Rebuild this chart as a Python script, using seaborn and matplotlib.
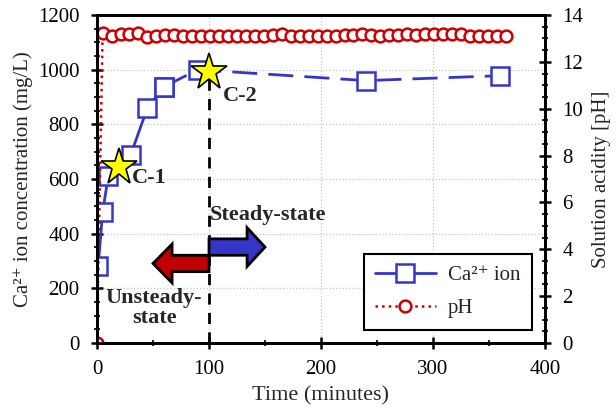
import pandas as pd
import seaborn as sns
import matplotlib.pyplot as plt
from matplotlib.lines import Line2D
from matplotlib.patches import FancyArrow
from matplotlib.ticker import MultipleLocator

# Ca2+ concentration (mg/L) vs time (minutes)
ca_time = [1, 5, 10, 30, 45, 60, 90, 240, 360]
ca_conc = [280, 478, 610, 688, 860, 938, 1000, 960, 978]

# pH vs time (minutes)
ph_time = [0, 5, 13, 21, 29, 37, 45, 53, 61, 69, 77, 85, 93, 101, 109, 117, 125,
           133, 141, 149, 157, 165, 173, 181, 189, 197, 205, 213, 221, 229, 237,
           245, 253, 261, 269, 277, 285, 293, 301, 309, 317, 325, 333, 341, 349,
           357, 365]
ph_vals = [0.0, 13.25, 13.12, 13.17, 13.2, 13.24, 13.07, 13.12, 13.15, 13.15,
           13.12, 13.12, 13.12, 13.12, 13.12, 13.12, 13.12, 13.1, 13.12, 13.12,
           13.14, 13.2, 13.12, 13.1, 13.1, 13.1, 13.12, 13.12, 13.14, 13.15,
           13.2, 13.14, 13.12, 13.14, 13.15, 13.17, 13.15, 13.2, 13.2, 13.17,
           13.2, 13.17, 13.12, 13.12, 13.12, 13.12, 13.12]

# marked points
star_time = [20, 100]
star_conc = [645, 993]
star_names = ['C-1', 'C-2']

BLUE = '#3535c8'
RED = '#cc0000'

sns.set_theme(style='ticks')
plt.rcParams['font.family'] = ['Liberation Serif', 'DejaVu Serif']

fig = plt.figure(figsize=(6.16, 4.08), dpi=100)
ax = fig.add_axes([0.1575, 0.1593, 0.7272, 0.8039])
ax2 = ax.twinx()

ca = pd.DataFrame({'t': ca_time, 'c': ca_conc})
ph = pd.DataFrame({'t': ph_time, 'p': ph_vals})

marker_kw = dict(marker='s', markersize=12.5, markerfacecolor='white',
                 markeredgecolor=BLUE, markeredgewidth=1.8)
sns.lineplot(data=ca[ca['t'] <= 60], x='t', y='c', ax=ax, color=BLUE,
             linewidth=2, legend=False, **marker_kw)
sns.lineplot(data=ca[ca['t'] >= 60], x='t', y='c', ax=ax, color=BLUE,
             linewidth=2, legend=False, **marker_kw)
ax.lines[-1].set_dashes([9, 4])

sns.lineplot(data=ph, x='t', y='p', ax=ax2, color=RED, linewidth=1.8,
             linestyle=':', marker='o', markersize=8.5, markerfacecolor='white',
             markeredgecolor=RED, markeredgewidth=1.8, legend=False)

# boundary between the two regimes
ax.plot([100, 100], [0, 990], color='black', lw=2, dashes=(4, 3), zorder=3)

ax.plot(star_time, star_conc, linestyle='none', marker='*', markersize=28,
        markerfacecolor='#ffff00', markeredgecolor='black',
        markeredgewidth=1.2, zorder=6)
ax.text(31, 605, star_names[0], fontsize=16, fontweight='bold', va='center')
ax.text(112, 905, star_names[1], fontsize=16, fontweight='bold', va='center')

ax.add_patch(FancyArrow(100, 291, -33, 0, width=60, head_width=142,
                        head_length=17, length_includes_head=False,
                        facecolor='#c00000', edgecolor='black', lw=2, zorder=4))
ax.add_patch(FancyArrow(100, 351, 34, 0, width=60, head_width=142,
                        head_length=16, length_includes_head=False,
                        facecolor=BLUE, edgecolor='black', lw=2, zorder=4))
ax.text(101, 468, 'Steady-state', fontsize=16, fontweight='bold', va='center')
ax.text(51, 128, 'Unsteady-\nstate', fontsize=16, fontweight='bold',
        ha='center', va='center', linespacing=0.95)

ax.set_xlim(0, 400)
ax.set_ylim(0, 1200)
ax2.set_ylim(0, 14)
ax.xaxis.set_major_locator(MultipleLocator(100))
ax.xaxis.set_minor_locator(MultipleLocator(50))
ax.yaxis.set_major_locator(MultipleLocator(200))
ax.yaxis.set_minor_locator(MultipleLocator(50))
ax2.yaxis.set_major_locator(MultipleLocator(2))
ax2.yaxis.set_minor_locator(MultipleLocator(0.5))

ax.grid(True, which='major', color='#c8c8c8', linestyle=':', linewidth=0.9)
for a in (ax, ax2):
    for s in a.spines.values():
        s.set_linewidth(2)
        s.set_color('black')
    a.tick_params(which='major', direction='inout', length=9, width=1.8,
                  labelsize=15, colors='black', pad=8)
    a.tick_params(which='minor', direction='inout', length=5, width=1.5)
ax.tick_params(axis='x', which='both', top=False)
ax.tick_params(axis='x', pad=8)

ax.set_xlabel('Time (minutes)', fontsize=16, labelpad=5)
ax.set_ylabel('Ca²⁺ ion concentration (mg/L)', fontsize=15, labelpad=4)
ax2.set_ylabel('Solution acidity [pH]', fontsize=15, labelpad=6)

handles = [
    Line2D([], [], color=BLUE, lw=2, **marker_kw),
    Line2D([], [], color=RED, lw=1.8, linestyle=':', marker='o', markersize=8.5,
           markerfacecolor='white', markeredgecolor=RED, markeredgewidth=1.8),
]
leg = ax2.legend(handles, ['Ca²⁺ ion', 'pH'], loc='lower right',
                 bbox_to_anchor=(0.971, 0.04), borderaxespad=0, fontsize=15,
                 frameon=True, fancybox=False, edgecolor='black', framealpha=1,
                 handlelength=2.9, handletextpad=0.6, borderpad=0.55,
                 labelspacing=0.65)
leg.get_frame().set_linewidth(1.5)

fig.savefig('out.png', dpi=100)
